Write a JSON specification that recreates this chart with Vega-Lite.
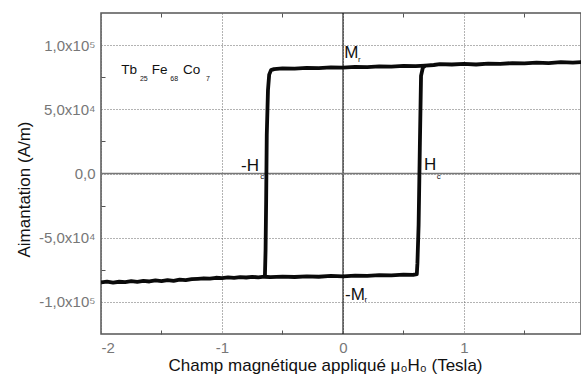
{
  "$schema": "https://vega.github.io/schema/vega-lite/v6.json",
  "autosize": "none",
  "width": 480,
  "height": 321,
  "padding": {"left": 101, "top": 13, "right": 0, "bottom": 40},
  "config": {
    "font": "Liberation Sans",
    "view": {"stroke": "#555", "strokeWidth": 1.5},
    "axis": {"labelFont": "Liberation Sans", "titleFont": "Liberation Sans"}
  },
  "datasets": {
    "loop": [
      {"b": "a", "i": 1, "x": -2.0, "m": -84800},
      {"b": "a", "i": 2, "x": -1.95, "m": -84200},
      {"b": "a", "i": 3, "x": -1.9, "m": -84900},
      {"b": "a", "i": 4, "x": -1.85, "m": -84300},
      {"b": "a", "i": 5, "x": -1.8, "m": -84600},
      {"b": "a", "i": 6, "x": -1.75, "m": -83900},
      {"b": "a", "i": 7, "x": -1.7, "m": -84400},
      {"b": "a", "i": 8, "x": -1.65, "m": -83700},
      {"b": "a", "i": 9, "x": -1.6, "m": -84100},
      {"b": "a", "i": 10, "x": -1.55, "m": -83300},
      {"b": "a", "i": 11, "x": -1.5, "m": -83800},
      {"b": "a", "i": 12, "x": -1.45, "m": -83000},
      {"b": "a", "i": 13, "x": -1.4, "m": -83600},
      {"b": "a", "i": 14, "x": -1.35, "m": -82600},
      {"b": "a", "i": 15, "x": -1.3, "m": -83100},
      {"b": "a", "i": 16, "x": -1.25, "m": -82300},
      {"b": "a", "i": 17, "x": -1.2, "m": -82000},
      {"b": "a", "i": 18, "x": -1.15, "m": -81600},
      {"b": "a", "i": 19, "x": -1.1, "m": -81900},
      {"b": "a", "i": 20, "x": -1.05, "m": -81200},
      {"b": "a", "i": 21, "x": -1.0, "m": -81500},
      {"b": "a", "i": 22, "x": -0.95, "m": -80900},
      {"b": "a", "i": 23, "x": -0.9, "m": -81300},
      {"b": "a", "i": 24, "x": -0.85, "m": -80700},
      {"b": "a", "i": 25, "x": -0.8, "m": -81000},
      {"b": "a", "i": 26, "x": -0.75, "m": -80500},
      {"b": "a", "i": 27, "x": -0.7, "m": -80900},
      {"b": "a", "i": 28, "x": -0.65, "m": -80400},
      {"b": "a", "i": 29, "x": -0.6, "m": -80700},
      {"b": "a", "i": 30, "x": -0.5, "m": -80300},
      {"b": "a", "i": 31, "x": -0.4, "m": -80600},
      {"b": "a", "i": 32, "x": -0.3, "m": -80100},
      {"b": "a", "i": 33, "x": -0.2, "m": -80400},
      {"b": "a", "i": 34, "x": -0.1, "m": -79800},
      {"b": "a", "i": 35, "x": 0.0, "m": -80100},
      {"b": "a", "i": 36, "x": 0.1, "m": -79500},
      {"b": "a", "i": 37, "x": 0.2, "m": -79800},
      {"b": "a", "i": 38, "x": 0.3, "m": -79200},
      {"b": "a", "i": 39, "x": 0.4, "m": -79400},
      {"b": "a", "i": 40, "x": 0.5, "m": -78800},
      {"b": "a", "i": 41, "x": 0.58, "m": -79000},
      {"b": "a", "i": 42, "x": 0.61, "m": -78300},
      {"b": "a", "i": 43, "x": 0.615, "m": -70000},
      {"b": "a", "i": 44, "x": 0.625, "m": -40000},
      {"b": "a", "i": 45, "x": 0.635, "m": 20000},
      {"b": "a", "i": 46, "x": 0.645, "m": 76000},
      {"b": "a", "i": 47, "x": 0.66, "m": 82500},
      {"b": "a", "i": 48, "x": 0.68, "m": 84000},
      {"b": "a", "i": 49, "x": 0.75, "m": 84500},
      {"b": "a", "i": 50, "x": 0.8, "m": 85200},
      {"b": "a", "i": 51, "x": 0.9, "m": 84900},
      {"b": "a", "i": 52, "x": 1.0, "m": 85300},
      {"b": "a", "i": 53, "x": 1.1, "m": 84900},
      {"b": "a", "i": 54, "x": 1.2, "m": 85600},
      {"b": "a", "i": 55, "x": 1.3, "m": 85300},
      {"b": "a", "i": 56, "x": 1.4, "m": 86000},
      {"b": "a", "i": 57, "x": 1.5, "m": 85700},
      {"b": "a", "i": 58, "x": 1.6, "m": 86400},
      {"b": "a", "i": 59, "x": 1.7, "m": 86000},
      {"b": "a", "i": 60, "x": 1.8, "m": 86700},
      {"b": "a", "i": 61, "x": 1.9, "m": 86300},
      {"b": "a", "i": 62, "x": 2.0, "m": 87000},
      {"b": "b", "i": 1, "x": 0.68, "m": 84000},
      {"b": "b", "i": 2, "x": 0.6, "m": 83600},
      {"b": "b", "i": 3, "x": 0.5, "m": 83800},
      {"b": "b", "i": 4, "x": 0.4, "m": 83200},
      {"b": "b", "i": 5, "x": 0.3, "m": 83400},
      {"b": "b", "i": 6, "x": 0.2, "m": 82800},
      {"b": "b", "i": 7, "x": 0.1, "m": 83000},
      {"b": "b", "i": 8, "x": 0.0, "m": 82500},
      {"b": "b", "i": 9, "x": -0.1, "m": 82700},
      {"b": "b", "i": 10, "x": -0.2, "m": 82100},
      {"b": "b", "i": 11, "x": -0.3, "m": 82300},
      {"b": "b", "i": 12, "x": -0.4, "m": 81700},
      {"b": "b", "i": 13, "x": -0.5, "m": 81900},
      {"b": "b", "i": 14, "x": -0.57, "m": 81300},
      {"b": "b", "i": 15, "x": -0.595, "m": 80500},
      {"b": "b", "i": 16, "x": -0.61, "m": 77000},
      {"b": "b", "i": 17, "x": -0.62, "m": 65000},
      {"b": "b", "i": 18, "x": -0.63, "m": 30000},
      {"b": "b", "i": 19, "x": -0.635, "m": -20000},
      {"b": "b", "i": 20, "x": -0.64, "m": -60000},
      {"b": "b", "i": 21, "x": -0.645, "m": -79000},
      {"b": "b", "i": 22, "x": -0.65, "m": -80400}
    ],
    "formula": [
      {"t": "Tb", "x": -1.833, "m": 77700},
      {"t": "Fe", "x": -1.581, "m": 77700},
      {"t": "Co", "x": -1.322, "m": 77700}
    ],
    "formulaSub": [
      {"t": "25", "x": -1.678, "m": 72300},
      {"t": "68", "x": -1.427, "m": 72300},
      {"t": "7", "x": -1.132, "m": 72300}
    ],
    "labels": [
      {"t": "M", "x": 0.0107, "m": 90000},
      {"t": "-M", "x": 0.0165, "m": -98300},
      {"t": "-H", "x": -0.843, "m": 1950},
      {"t": "H", "x": 0.669, "m": 2700}
    ],
    "labelSub": [
      {"t": "r", "x": 0.125, "m": 86600},
      {"t": "r", "x": 0.178, "m": -100400},
      {"t": "c", "x": -0.684, "m": -4300},
      {"t": "c", "x": 0.775, "m": -4300}
    ],
    "zeroX": [{"x": 0}],
    "zeroY": [{"m": 0}]
  },
  "resolve": {"axis": {"x": "independent", "y": "independent"}},
  "layer": [
    {
      "data": {"name": "zeroX"},
      "mark": {"type": "rule", "color": "#000", "strokeWidth": 1},
      "encoding": {
        "x": {"field": "x", "type": "quantitative", "scale": {"domain": [-2, 1.967], "nice": false, "zero": false},
          "axis": {"orient": "top", "values": [-1.5, -0.5, 0.5, 1.5], "tickSize": -4, "tickColor": "#555", "labels": false, "domain": false, "grid": false, "title": null}}
      }
    },
    {
      "data": {"name": "zeroY"},
      "mark": {"type": "rule", "color": "#777", "strokeWidth": 1.5},
      "encoding": {
        "y": {"field": "m", "type": "quantitative", "scale": {"domain": [-125000, 125000], "nice": false, "zero": false},
          "axis": {"orient": "left", "values": [-75000, -25000, 25000, 75000], "tickSize": -4, "tickColor": "#555", "labels": false, "domain": false, "grid": false, "title": null}}
      }
    },
    {
      "data": {"name": "loop"},
      "mark": {"type": "line", "color": "#0a0a0a", "strokeWidth": 3.8, "strokeJoin": "round", "clip": true},
      "encoding": {
        "x": {"field": "x", "type": "quantitative", "scale": {"domain": [-2, 1.967], "nice": false, "zero": false},
          "axis": {"orient": "bottom", "values": [-2, -1, 0, 1], "labelExpr": "datum.value + ''", "ticks": false, "domain": false,
            "grid": true, "gridDash": [1, 2], "gridColor": "#666", "gridWidth": 1,
            "labelFontSize": 15, "labelColor": "#777", "labelPadding": 6,
            "title": "Champ magnétique appliqué μ₀H₀ (Tesla)", "titleFontSize": 17, "titleFontWeight": "normal", "titleColor": "#111",
            "titleX": 224, "titleY": 36, "titleBaseline": "alphabetic", "titleAlign": "center"}},
        "y": {"field": "m", "type": "quantitative", "scale": {"domain": [-125000, 125000], "nice": false, "zero": false},
          "axis": {"orient": "left", "values": [-100000, -50000, 0, 50000, 100000],
            "labelExpr": "datum.value == 0 ? '0,0' : (datum.value < 0 ? '-' : '') + (abs(datum.value) == 100000 ? '1,0x10⁵' : '5,0x10⁴')",
            "ticks": false, "domain": false, "grid": true, "gridDash": [1, 2], "gridColor": "#666", "gridWidth": 1,
            "labelFontSize": 15, "labelColor": "#777", "labelPadding": 6,
            "title": "Aimantation (A/m)", "titleFontSize": 17, "titleFontWeight": "normal", "titleColor": "#111",
            "titleX": -72, "titleY": 176, "titleBaseline": "alphabetic"}},
        "detail": {"field": "b"},
        "order": {"field": "i", "type": "quantitative"}
      }
    },
    {
      "data": {"name": "formula"},
      "mark": {"type": "text", "align": "left", "baseline": "alphabetic", "fontSize": 13.5, "color": "#111"},
      "encoding": {
        "x": {"field": "x", "type": "quantitative", "scale": {"domain": [-2, 1.967], "nice": false, "zero": false},
          "axis": {"orient": "bottom", "values": [-1.5, -0.5, 0.5, 1.5], "tickSize": -4, "tickColor": "#555", "labels": false, "domain": false, "grid": false, "title": null}},
        "y": {"field": "m", "type": "quantitative", "scale": {"domain": [-125000, 125000], "nice": false, "zero": false}, "axis": null},
        "text": {"field": "t"}
      }
    },
    {
      "data": {"name": "formulaSub"},
      "mark": {"type": "text", "align": "left", "baseline": "alphabetic", "fontSize": 7, "color": "#111"},
      "encoding": {
        "x": {"field": "x", "type": "quantitative", "scale": {"domain": [-2, 1.967], "nice": false, "zero": false}, "axis": null},
        "y": {"field": "m", "type": "quantitative", "scale": {"domain": [-125000, 125000], "nice": false, "zero": false}, "axis": null},
        "text": {"field": "t"}
      }
    },
    {
      "data": {"name": "labels"},
      "mark": {"type": "text", "align": "left", "baseline": "alphabetic", "fontSize": 17, "color": "#111"},
      "encoding": {
        "x": {"field": "x", "type": "quantitative", "scale": {"domain": [-2, 1.967], "nice": false, "zero": false}, "axis": null},
        "y": {"field": "m", "type": "quantitative", "scale": {"domain": [-125000, 125000], "nice": false, "zero": false}, "axis": null},
        "text": {"field": "t"}
      }
    },
    {
      "data": {"name": "labelSub"},
      "mark": {"type": "text", "align": "left", "baseline": "alphabetic", "fontSize": 8, "color": "#111"},
      "encoding": {
        "x": {"field": "x", "type": "quantitative", "scale": {"domain": [-2, 1.967], "nice": false, "zero": false}, "axis": null},
        "y": {"field": "m", "type": "quantitative", "scale": {"domain": [-125000, 125000], "nice": false, "zero": false}, "axis": null},
        "text": {"field": "t"}
      }
    }
  ]
}
